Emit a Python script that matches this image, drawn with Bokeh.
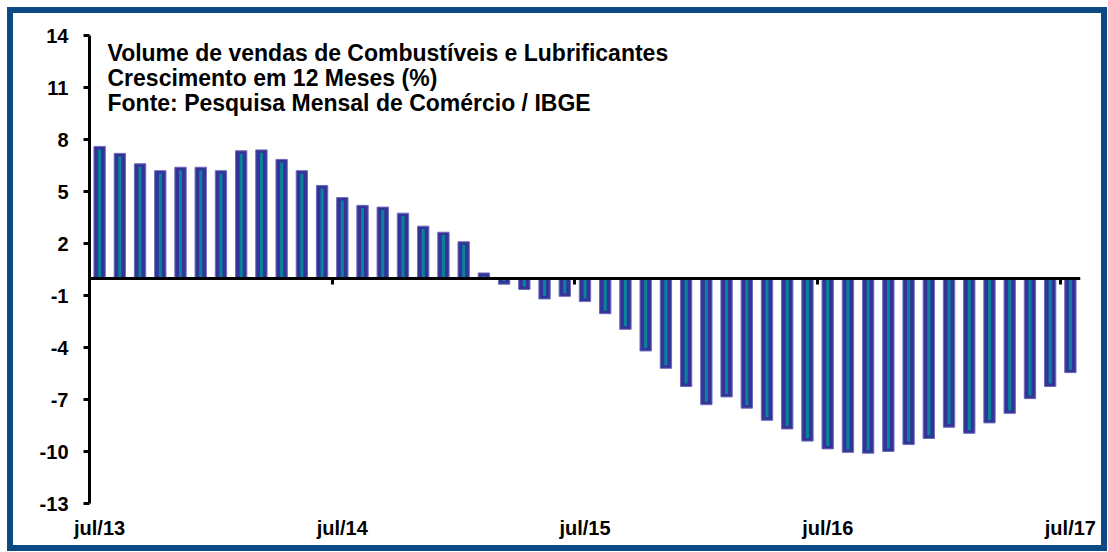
import numpy as np
from bokeh.plotting import figure
from bokeh.models import LinearAxis, FixedTicker, Label, Range1d, ColumnDataSource
from bokeh.embed import file_html
from bokeh.resources import INLINE

# ---- data -------------------------------------------------------------
month_names = ["jul", "ago", "set", "out", "nov", "dez",
               "jan", "fev", "mar", "abr", "mai", "jun"]
categories = []
for k in range(49):
    yy = 13 + (k + 6) // 12
    categories.append(f"{month_names[k % 12]}/{yy}")

values = [7.6, 7.2, 6.6, 6.2, 6.4, 6.4, 6.2, 7.35, 7.4, 6.85, 6.2, 5.35,
          4.65, 4.2, 4.1, 3.75, 3.0, 2.65, 2.1, 0.3, -0.35, -0.65, -1.2, -1.05,
          -1.35, -2.05, -2.95, -4.2, -5.2, -6.25, -7.3, -6.85, -7.5, -8.2, -8.7, -9.4,
          -9.85, -10.05, -10.1, -10.0, -9.6, -9.25, -8.6, -8.95, -8.35, -7.8, -6.95, -6.25,
          -5.45]

x_tick_labels = ["jul/13", "jul/14", "jul/15", "jul/16", "jul/17"]
y_ticks = [14, 11, 8, 5, 2, -1, -4, -7, -10, -13]
title_lines = ["Volume de vendas de Combustíveis e Lubrificantes",
               "Crescimento em 12 Meses (%)",
               "Fonte: Pesquisa Mensal de Comércio / IBGE"]

# ---- derived ------------------------------------------------------------
n = len(values)
xs = list(range(n))
vals = np.array(values)
inner = np.sign(vals) * np.maximum(np.abs(vals) - 0.17, 0.0)
src = ColumnDataSource(dict(x=xs, value=values, inner=inner.tolist(), cat=categories))

FONT = "Liberation Sans"

p = figure(width=1100, height=544, output_backend="svg", toolbar_location=None,
           x_range=Range1d(-0.5, n - 0.5), y_range=Range1d(-13, 14),
           x_axis_location=None, y_axis_location="left",
           min_border_left=76, min_border_right=33, min_border_top=22,
           min_border_bottom=54)
p.styles = {"border": "6px solid #0B4A85", "margin": "7px 0px 0px 7px"}
p.background_fill_color = "white"
p.border_fill_color = "white"
p.outline_line_color = None
p.xgrid.visible = False
p.ygrid.visible = False

# bars
p.vbar(x="x", top="value", bottom=0, width=0.56, source=src,
       fill_color="#333399", line_color="#6D6DB8", line_width=1)
p.vbar(x="x", top="inner", bottom=0, width=0.15, source=src,
       fill_color="#08839A", line_color=None)

# y axis
ya = p.yaxis[0]
ya.ticker = FixedTicker(ticks=y_ticks)
ya.major_label_overrides = {t: str(t) for t in y_ticks}
ya.axis_line_width = 3
ya.axis_line_color = "black"
ya.major_tick_line_width = 3
ya.major_tick_out = 6
ya.major_tick_in = 0
ya.minor_tick_line_color = None
ya.major_label_standoff = 15
ya.major_label_text_font = FONT
ya.major_label_text_font_style = "bold"
ya.major_label_text_font_size = "20px"
ya.major_label_text_color = "black"

# zero-line axis with year boundary ticks
bounds = [12 * k - 0.5 for k in range(1, len(x_tick_labels))]
za = LinearAxis(fixed_location=0, ticker=FixedTicker(ticks=bounds),
                axis_line_width=3, axis_line_color="black",
                major_tick_line_width=3, major_tick_out=6, major_tick_in=0,
                minor_tick_line_color=None, major_label_text_color=None)
p.add_layout(za, "below")

# label axis at bottom
lab_pos = [12 * k for k in range(len(x_tick_labels))]
la = LinearAxis(ticker=FixedTicker(ticks=lab_pos),
                major_label_overrides={pos: lab for pos, lab in zip(lab_pos, x_tick_labels)},
                axis_line_color=None, major_tick_line_color=None,
                minor_tick_line_color=None, major_label_standoff=7,
                major_label_text_font=FONT, major_label_text_font_style="bold",
                major_label_text_font_size="20px", major_label_text_color="black")
p.add_layout(la, "below")

# title block
for i, line in enumerate(title_lines):
    p.add_layout(Label(x=18, y=451 - 25 * i, x_units="screen", y_units="screen",
                       text=line, text_font=FONT, text_font_style="bold",
                       text_font_size="23px", text_color="black",
                       text_baseline="alphabetic", text_align="left"))

open("out.html", "w").write(file_html(p, INLINE))
